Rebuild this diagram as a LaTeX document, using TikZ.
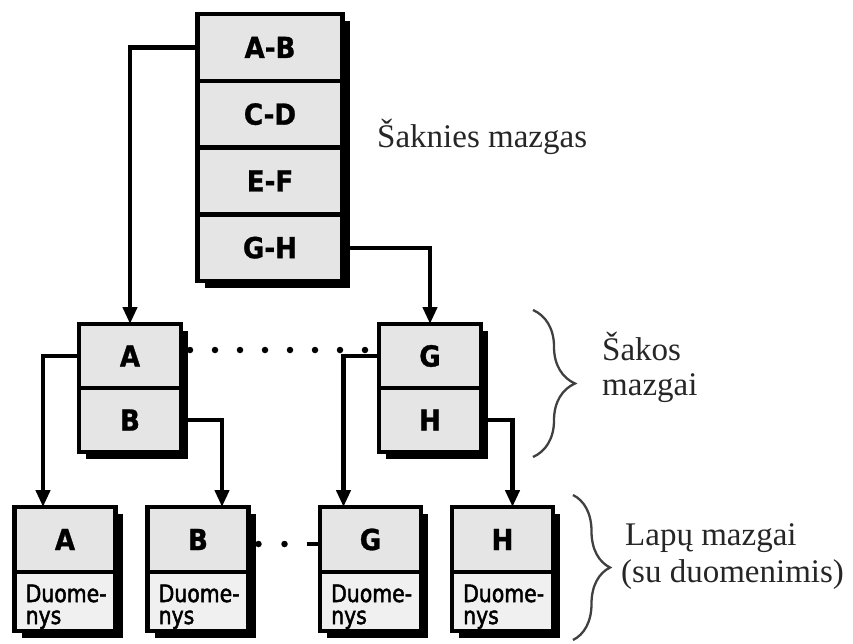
\documentclass[tikz,border=0pt]{standalone}
\usepackage{fontspec}
\setmainfont{Liberation Serif}
\newfontfamily\keyfont{DejaVu Sans}[FakeStretch=0.9,BoldFeatures={FakeBold=1}]
\newfontfamily\datafont{DejaVu Sans}[FakeStretch=0.85,FakeBold=2]
\usetikzlibrary{arrows.meta,positioning,calc,decorations.pathreplacing,backgrounds}

\tikzset{
  keycell/.style={draw=black, line width=4.5pt, fill=gray!20, outer sep=0pt, inner sep=0pt,
    font=\keyfont\bfseries\fontsize{29}{30}\selectfont},
  rootcell/.style={keycell, minimum width=145pt, minimum height=66.75pt},
  branchcell/.style={keycell, minimum width=102pt, minimum height=64pt},
  leafkey/.style={keycell, minimum width=101pt, minimum height=65pt},
  leafdata/.style={keycell, fill=gray!12, minimum width=101pt, minimum height=59pt},
  datatext/.style={font=\datafont\fontsize{24}{25}\selectfont, inner sep=0pt, anchor=base west},
  boxshadow/.style={fill=black},
  link/.style={line width=4.3pt, -{Triangle[width=14pt,length=17pt]}},
  dotrow/.style={line width=6.5pt, line cap=round, dash pattern=on 0pt off 25pt},
  sidetext/.style={font=\fontsize{33}{36}\selectfont, text=black!85, inner sep=0pt, anchor=base west},
  curly/.style={decorate, decoration={brace, amplitude=#1}, line width=2.3pt, draw=black!75},
}

\begin{document}
\begin{tikzpicture}[x=1pt, y=-1pt]
\useasboundingbox (0,0) rectangle (853,643);

% root node: four key ranges
\node[rootcell] (r1) at (270,47.4) {A-B};
\node[rootcell, below=0pt of r1] (r2) {C-D};
\node[rootcell, below=0pt of r2] (r3) {E-F};
\node[rootcell, below=0pt of r3] (r4) {G-H};

% branch nodes
\node[branchcell] (bA) at (130,356) {A};
\node[branchcell, below=0pt of bA] (bB) {B};
\node[branchcell] (bG) at (430,356) {G};
\node[branchcell, below=0pt of bG] (bH) {H};

% leaf nodes: key cell over data cell
\node[leafkey] (lA) at (65,539.5) {A};
\node[leafdata, below=0pt of lA] (lAd) {};
\node[leafkey] (lB) at (198,539.5) {B};
\node[leafdata, below=0pt of lB] (lBd) {};
\node[leafkey] (lG) at (370.5,539.5) {G};
\node[leafdata, below=0pt of lG] (lGd) {};
\node[leafkey] (lH) at (502.5,539.5) {H};
\node[leafdata, below=0pt of lH] (lHd) {};

% data text in each leaf
\foreach \lf in {lAd,lBd,lGd,lHd}{
  \node[datatext] (\lf-1) at ([shift={(11,30)}]\lf.north west) {Duome-};
  \node[datatext] (\lf-2) at ([shift={(11,52)}]\lf.north west) {nys};
}

% drop shadows behind the boxes
\begin{scope}[on background layer]
  \fill[boxshadow] ([shift={(7,7)}]r1.north west) rectangle ([shift={(7,7)}]r4.south east);
  \fill[boxshadow] ([shift={(7,7)}]bA.north west) rectangle ([shift={(7,7)}]bB.south east);
  \fill[boxshadow] ([shift={(7,7)}]bG.north west) rectangle ([shift={(7,7)}]bH.south east);
  \foreach \lf in {lA,lB,lG,lH}{
    \fill[boxshadow] ([shift={(7,7)}]\lf.north west) rectangle ([shift={(7,7)}]\lf d.south east);
  }
\end{scope}

% connectors
\draw[link] (r1.west) -| (bA.north);
\draw[link] (r4.east) -| (bG.north);
\draw[link] (bA.west) -| ($(lA.north)+(-22,0)$);
\draw[link] (bB.east) -| ($(lB.north)+(24,0)$);
\draw[link] (bG.west) -| ($(lG.north)+(-27,0)$);
\draw[link] (bH.east) -| ($(lH.north)+(10,0)$);

% sibling links (dotted)
\draw[dotrow] ([xshift=9pt,yshift=6pt]bA.east) -- ([xshift=-14pt,yshift=6pt]bG.west);
\draw[dotrow, dash pattern=on 0pt off 26pt] ([xshift=10pt,yshift=-4.5pt]lB.east) -- ([xshift=-35pt,yshift=-4.5pt]lG.west);
\draw[line width=4.3pt] ([xshift=-13pt,yshift=-4.5pt]lG.west) -- ([yshift=-4.5pt]lG.west);

% level captions
\node[sidetext] (rootcap) at (377,147) {Šaknies mazgas};

\coordinate (brA1) at (533,310);
\coordinate (brA2) at (533,457);
\draw[curly=42pt] (brA1) -- (brA2);
\node[sidetext] (branchcap1) at (602,360) {Šakos};
\node[sidetext] (branchcap2) at (602,395) {mazgai};

\coordinate (brB1) at (573,495);
\coordinate (brB2) at (573,640);
\draw[curly=37pt] (brB1) -- (brB2);
\node[sidetext] (leafcap1) at (625,545) {Lapų mazgai};
\node[sidetext] (leafcap2) at (621,582) {(su duomenimis)};

\end{tikzpicture}
\end{document}
